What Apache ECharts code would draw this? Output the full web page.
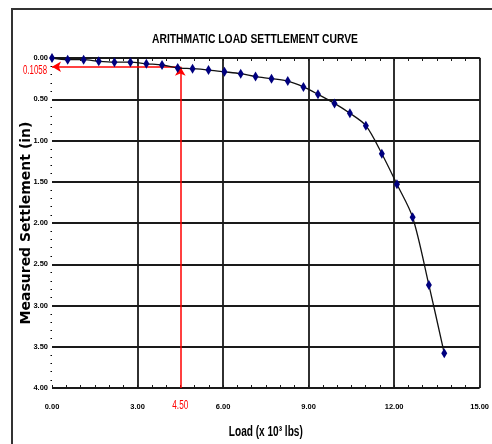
<!DOCTYPE html>
<html><head><meta charset="utf-8">
<script src="https://cdn.jsdelivr.net/npm/echarts@6/dist/echarts.min.js"></script>
<style>html,body{margin:0;padding:0;background:#fff}#c{width:492px;height:444px}</style>
</head><body><div id="c"></div>
<script>
const titleText = 'ARITHMATIC LOAD SETTLEMENT CURVE';
const xName = 'Load (x 10\u00B3 lbs)';
const yName = 'Measured Settlement (in)';
const loads = [0, 0.55, 1.11, 1.64, 2.19, 2.75, 3.31, 3.86, 4.41, 4.93, 5.49, 6.05, 6.62, 7.14, 7.70, 8.27, 8.82, 9.33, 9.91, 10.45, 11.01, 11.57, 12.10, 12.65, 13.22, 13.76];
const settlement = [0, 0.02, 0.02, 0.04, 0.05, 0.05, 0.07, 0.085, 0.12, 0.13, 0.146, 0.167, 0.19, 0.225, 0.25, 0.28, 0.35, 0.44, 0.55, 0.67, 0.82, 1.16, 1.53, 1.93, 2.75, 3.58];
const refLoad = 4.50;
const refSettlement = 0.1058;
const xTicks = [0, 3, 6, 9, 12, 15];
const yTicks = [0, 0.5, 1, 1.5, 2, 2.5, 3, 3.5, 4];

const sans = '"Liberation Sans",Arial,sans-serif';
const pts = loads.map((v, i) => [v, settlement[i]]);
const chart = echarts.init(document.getElementById('c'), null, {renderer: 'canvas'});
const gridC = '#1a1a1a';

const mctx = document.createElement('canvas').getContext('2d');
function narrowText(text, font, targetW, x, y, fill) {
  mctx.font = font;
  const w = mctx.measureText(text).width;
  return {type: 'text', x: x, y: y, scaleX: targetW / w, z: 10,
    style: {text: text, font: font, fill: fill, textAlign: 'center', textVerticalAlign: 'middle'}};
}

chart.setOption({
  animation: false,
  backgroundColor: '#fff',
  grid: {left: 52, right: 9, top: 58, bottom: 56},
  xAxis: [{
    type: 'value', min: xTicks[0], max: xTicks[xTicks.length - 1], interval: 3,
    axisLine: {show: true, lineStyle: {color: gridC, width: 1.5}},
    axisTick: {show: true, length: 3, lineStyle: {color: gridC}},
    minorTick: {show: true, splitNumber: 6, length: 3, lineStyle: {color: gridC}},
    axisLabel: {margin: 15, formatter: v => v.toFixed(2), fontFamily: sans, fontWeight: 'bold', fontSize: 7.5, color: '#000'},
    splitLine: {show: true, showMinLine: false, lineStyle: {color: gridC, width: 1.8}}
  }, {
    type: 'value', min: xTicks[0], max: xTicks[xTicks.length - 1], interval: 3, position: 'bottom',
    axisLine: {show: false}, axisLabel: {show: false}, splitLine: {show: false},
    axisTick: {show: true, inside: true, length: 3, lineStyle: {color: gridC}},
    minorTick: {show: true, splitNumber: 6, length: 3, lineStyle: {color: gridC}}
  }],
  yAxis: {
    type: 'value', inverse: true, min: yTicks[0], max: yTicks[yTicks.length - 1], interval: 0.5,
    name: yName, nameLocation: 'middle', nameGap: 19, nameRotate: 90, nameMoveOverlap: false,
    nameTextStyle: {fontFamily: '"DejaVu Sans",sans-serif', fontWeight: 'bold', fontSize: 14, color: '#000'},
    axisLine: {show: false},
    axisTick: {show: false},
    minorTick: {show: true, splitNumber: 5, length: 1.5, lineStyle: {color: '#000', width: 1.2}},
    axisLabel: {margin: 4, formatter: v => v.toFixed(2), fontFamily: sans, fontWeight: 'bold', fontSize: 7.5, color: '#000'},
    splitLine: {show: true, lineStyle: {color: gridC, width: 2}}
  },
  series: [{
    type: 'line', data: pts, smooth: 0.3,
    lineStyle: {color: '#111', width: 1.3},
    symbol: 'diamond', symbolSize: [6, 10],
    itemStyle: {color: '#00007f'}, z: 5
  }, {
    type: 'line', data: [], silent: true,
    markLine: {
      silent: true, symbol: ['none', 'arrow'], symbolSize: [8, 9],
      lineStyle: {color: '#ff0000', width: 1.5, type: 'solid'},
      label: {show: false},
      data: [
        [{coord: [refLoad, refSettlement]}, {coord: [0, refSettlement]}],
        [{coord: [refLoad, yTicks[yTicks.length - 1]]}, {coord: [refLoad, refSettlement]}]
      ]
    }
  }]
});

// texts in a condensed face, placed from the chart's own scales
const pRef = chart.convertToPixel({gridIndex: 0}, [refLoad, refSettlement]);
const pOrigin = chart.convertToPixel({gridIndex: 0}, [0, yTicks[yTicks.length - 1]]);
const pEnd = chart.convertToPixel({gridIndex: 0}, [xTicks[xTicks.length - 1], 0]);
const plotMidX = (pOrigin[0] + pEnd[0]) / 2;
chart.setOption({
  graphic: [
    {type: 'rect', shape: {x: 12, y: 9, width: 500, height: 500}, style: {fill: 'none', stroke: '#333', lineWidth: 2}, z: -1},
    narrowText(titleText, 'bold 12px ' + sans, 206, 255, 40, '#000'),
    narrowText(xName, 'bold 14px ' + sans, 74, plotMidX, 432, '#000'),
    narrowText(refSettlement.toFixed(4), '13px ' + sans, 24, pOrigin[0] - 17, pRef[1] + 4, '#ff0000'),
    narrowText(refLoad.toFixed(2), '13px ' + sans, 16, pRef[0], pOrigin[1] + 17, '#ff0000')
  ]
});
</script></body></html>
